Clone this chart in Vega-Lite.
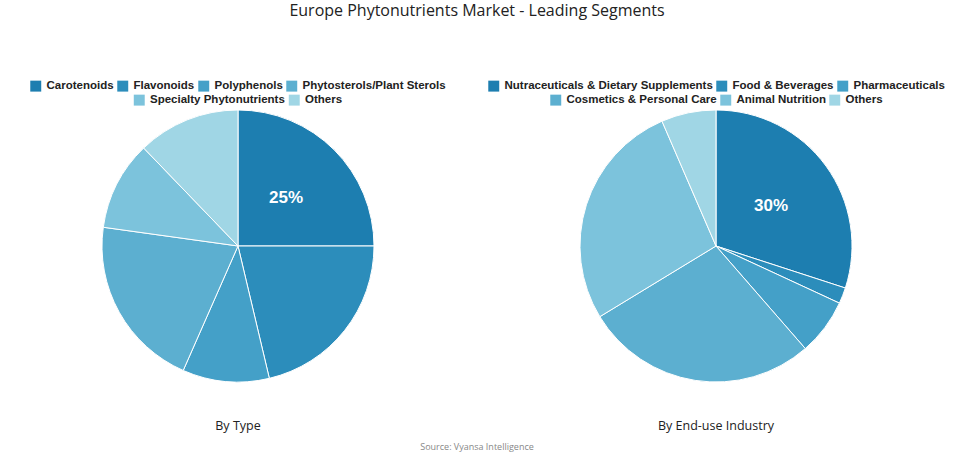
{
  "$schema": "https://vega.github.io/schema/vega-lite/v6.json",
  "padding": {"left": 3, "right": 0, "top": 3, "bottom": 0},
  "background": "white",
  "title": {"text": "Europe Phytonutrients Market - Leading Segments", "font": "Open Sans", "fontSize": 16, "fontWeight": "normal", "color": "#222222", "anchor": "middle", "offset": 61},
  "vconcat": [
    {
      "title": {"text": "Source: Vyansa Intelligence", "orient": "bottom", "font": "Open Sans", "fontSize": 9, "fontWeight": "normal", "color": "#888888", "anchor": "middle", "offset": 10},
      "spacing": 8,
      "hconcat": [
        {
          "width": 470, "height": 272,
          "title": {"text": "By Type", "orient": "bottom", "font": "Open Sans", "fontSize": 12.5, "fontWeight": "normal", "color": "#222222", "offset": 36},
          "data": {"values": [
            {"segment": "Carotenoids", "share": 25, "rank": 1, "label": "25%"},
            {"segment": "Flavonoids", "share": 21.3, "rank": 2, "label": ""},
            {"segment": "Polyphenols", "share": 10.3, "rank": 3, "label": ""},
            {"segment": "Phytosterols/Plant Sterols", "share": 20.6, "rank": 4, "label": ""},
            {"segment": "Specialty Phytonutrients", "share": 10.6, "rank": 5, "label": ""},
            {"segment": "Others", "share": 12.2, "rank": 6, "label": ""}
          ]},
          "layer": [
            {
              "mark": {"type": "arc", "outerRadius": 136, "stroke": "white", "strokeWidth": 1},
              "encoding": {
                "theta": {"field": "share", "type": "quantitative", "stack": true},
                "order": {"field": "rank", "type": "quantitative"},
                "color": {"field": "segment", "type": "nominal",
                  "scale": {"domain": ["Carotenoids", "Flavonoids", "Polyphenols", "Phytosterols/Plant Sterols", "Specialty Phytonutrients", "Others"],
                            "range": ["#1d7eb0", "#2c8dbb", "#44a0c8", "#5cafd0", "#7cc3dc", "#a0d6e5"]},
                  "legend": {"values": ["Carotenoids", "Flavonoids", "Polyphenols", "Phytosterols/Plant Sterols"]}}
              }
            },
            {
              "mark": {"type": "arc", "outerRadius": 136, "stroke": "white", "strokeWidth": 1},
              "encoding": {
                "theta": {"field": "share", "type": "quantitative", "stack": true},
                "order": {"field": "rank", "type": "quantitative"},
                "color": {"field": "segment", "type": "nominal",
                  "scale": {"domain": ["Carotenoids", "Flavonoids", "Polyphenols", "Phytosterols/Plant Sterols", "Specialty Phytonutrients", "Others"],
                            "range": ["#1d7eb0", "#2c8dbb", "#44a0c8", "#5cafd0", "#7cc3dc", "#a0d6e5"]},
                  "legend": {"values": ["Specialty Phytonutrients", "Others"]}}
              }
            },
            {
              "mark": {"type": "text", "radius": 68, "fill": "white", "font": "Liberation Sans", "fontSize": 17, "fontWeight": "bold"},
              "encoding": {
                "theta": {"field": "share", "type": "quantitative", "stack": true},
                "order": {"field": "rank", "type": "quantitative"},
                "detail": {"field": "segment", "type": "nominal"},
                "text": {"field": "label", "type": "nominal"}
              }
            }
          ],
          "resolve": {"scale": {"color": "independent"}}
        },
        {
          "width": 470, "height": 272,
          "title": {"text": "By End-use Industry", "orient": "bottom", "font": "Open Sans", "fontSize": 12.5, "fontWeight": "normal", "color": "#222222", "offset": 36},
          "data": {"values": [
            {"segment": "Nutraceuticals & Dietary Supplements", "share": 30, "rank": 1, "label": "30%"},
            {"segment": "Food & Beverages", "share": 1.9, "rank": 2, "label": ""},
            {"segment": "Pharmaceuticals", "share": 6.7, "rank": 3, "label": ""},
            {"segment": "Cosmetics & Personal Care", "share": 27.7, "rank": 4, "label": ""},
            {"segment": "Animal Nutrition", "share": 27.2, "rank": 5, "label": ""},
            {"segment": "Others", "share": 6.5, "rank": 6, "label": ""}
          ]},
          "layer": [
            {
              "mark": {"type": "arc", "outerRadius": 136, "stroke": "white", "strokeWidth": 1},
              "encoding": {
                "theta": {"field": "share", "type": "quantitative", "stack": true},
                "order": {"field": "rank", "type": "quantitative"},
                "color": {"field": "segment", "type": "nominal",
                  "scale": {"domain": ["Nutraceuticals & Dietary Supplements", "Food & Beverages", "Pharmaceuticals", "Cosmetics & Personal Care", "Animal Nutrition", "Others"],
                            "range": ["#1d7eb0", "#2c8dbb", "#44a0c8", "#5cafd0", "#7cc3dc", "#a0d6e5"]},
                  "legend": {"values": ["Nutraceuticals & Dietary Supplements", "Food & Beverages", "Pharmaceuticals"]}}
              }
            },
            {
              "mark": {"type": "arc", "outerRadius": 136, "stroke": "white", "strokeWidth": 1},
              "encoding": {
                "theta": {"field": "share", "type": "quantitative", "stack": true},
                "order": {"field": "rank", "type": "quantitative"},
                "color": {"field": "segment", "type": "nominal",
                  "scale": {"domain": ["Nutraceuticals & Dietary Supplements", "Food & Beverages", "Pharmaceuticals", "Cosmetics & Personal Care", "Animal Nutrition", "Others"],
                            "range": ["#1d7eb0", "#2c8dbb", "#44a0c8", "#5cafd0", "#7cc3dc", "#a0d6e5"]},
                  "legend": {"values": ["Cosmetics & Personal Care", "Animal Nutrition", "Others"]}}
              }
            },
            {
              "mark": {"type": "text", "radius": 68, "fill": "white", "font": "Liberation Sans", "fontSize": 17, "fontWeight": "bold"},
              "encoding": {
                "theta": {"field": "share", "type": "quantitative", "stack": true},
                "order": {"field": "rank", "type": "quantitative"},
                "detail": {"field": "segment", "type": "nominal"},
                "text": {"field": "label", "type": "nominal"}
              }
            }
          ],
          "resolve": {"scale": {"color": "independent"}}
        }
      ],
      "resolve": {"scale": {"color": "independent", "theta": "independent"}}
    }
  ],
  "config": {
    "view": {"stroke": null},
    "legend": {
      "orient": "top",
      "direction": "horizontal",
      "title": null,
      "symbolType": "square",
      "symbolSize": 120,
      "symbolStrokeWidth": 0,
      "labelFont": "Liberation Sans",
      "labelFontSize": 11.5,
      "labelFontWeight": "bold",
      "labelColor": "#222222",
      "labelOffset": 5,
      "labelLimit": 0,
      "columnPadding": 3,
      "padding": 0,
      "offset": 4,
      "layout": {"top": {"direction": "vertical", "anchor": "middle", "center": true, "margin": 2}}
    }
  }
}
